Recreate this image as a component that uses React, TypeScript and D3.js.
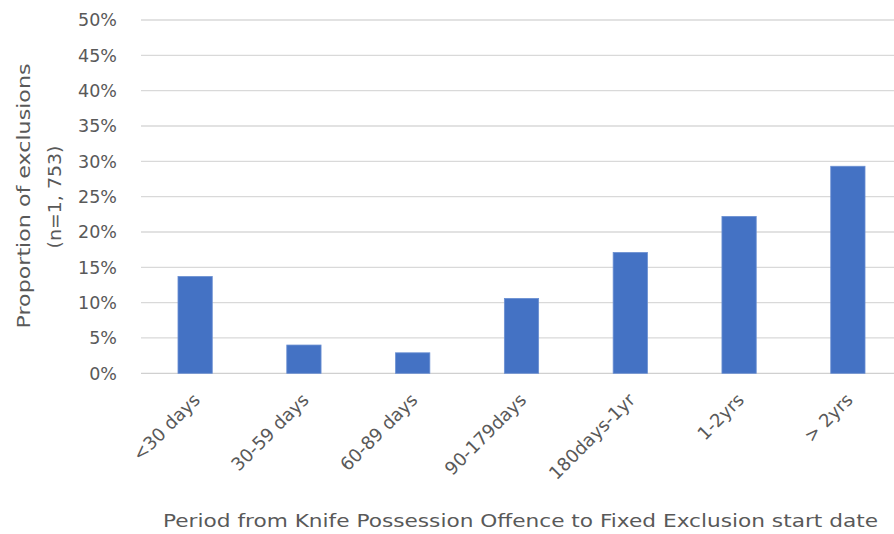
import React from "react";
import * as d3 from "d3";

const categories = ["<30 days", "30-59 days", "60-89 days", "90-179days", "180days-1yr", "1-2yrs", "> 2yrs"];
const proportions = [13.7, 4.0, 2.9, 10.6, 17.1, 22.2, 29.3];
const yTicks = [0, 5, 10, 15, 20, 25, 30, 35, 40, 45, 50];
const yTitleLines = ["Proportion of exclusions", "(n=1, 753)"];
const xTitle = "Period from Knife Possession Offence to Fixed Exclusion start date";

const W = 894;
const H = 534;
const FONT = "'DejaVu Sans', sans-serif";
const TEXT = "#595959";

export default function App() {
  const x = d3.scaleBand<string>().domain(categories).range([141, 902]).paddingInner(0.685).paddingOuter(0.34);
  const y = d3.scaleLinear().domain([0, 50]).range([373.3, 20]);

  return (
    <svg width={W} height={H} style={{ position: "absolute", left: 0, top: 0, background: "#fff" }}>
      {yTicks.map((t) => (
        <g key={t}>
          <line x1={141} x2={902} y1={y(t)} y2={y(t)} stroke={t === 0 ? "#d0d0d0" : "#d9d9d9"} strokeWidth={1.3} />
          <text x={117} y={y(t)} dy="0.36em" textAnchor="end" fontFamily={FONT} fontSize={17.5} fill={TEXT}>
            {t}%
          </text>
        </g>
      ))}
      {categories.map((c, i) => (
        <rect
          key={c}
          x={x(c)}
          y={y(proportions[i])}
          width={x.bandwidth()}
          height={y(0) - y(proportions[i])}
          fill="#4472C4"
          stroke="#6a8fd2"
          strokeWidth={0.8}
        />
      ))}
      {categories.map((c) => {
        const cx = (x(c) as number) + x.bandwidth() / 2;
        return (
          <text
            key={c}
            transform={`translate(${cx + 6},${401}) rotate(-45)`}
            textAnchor="end"
            fontFamily={FONT}
            fontSize={18}
            fill={TEXT}
          >
            {c}
          </text>
        );
      })}
      <text x={24} y={196} transform="rotate(-90 24 196)" dy="0.36em" textAnchor="middle" fontFamily={FONT} fontSize={17} fill={TEXT} textLength={265} lengthAdjust="spacingAndGlyphs">
        {yTitleLines[0]}
      </text>
      <text x={55} y={197} transform="rotate(-90 55 197)" dy="0.36em" textAnchor="middle" fontFamily={FONT} fontSize={17} fill={TEXT} textLength={103} lengthAdjust="spacingAndGlyphs">
        {yTitleLines[1]}
      </text>
      <text x={520.5} y={527} textAnchor="middle" fontFamily={FONT} fontSize={17.5} fill={TEXT} textLength={715} lengthAdjust="spacingAndGlyphs">
        {xTitle}
      </text>
    </svg>
  );
}
